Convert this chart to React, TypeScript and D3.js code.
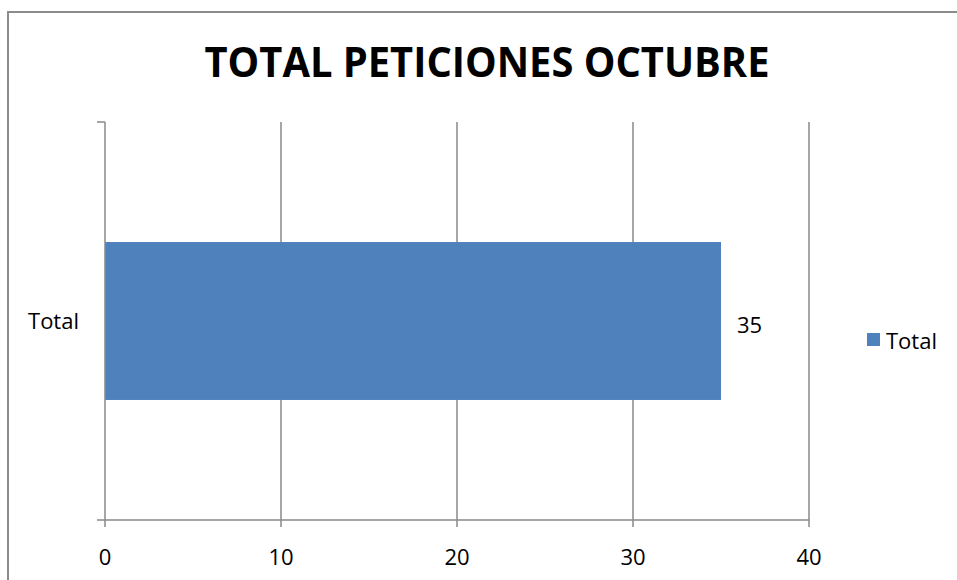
import React, { useRef, useEffect } from "react";
import * as d3 from "d3";

const categories = ["Total"];
const values = [35];
const seriesName = "Total";
const xTicks = [0, 10, 20, 30, 40];
const title = "TOTAL PETICIONES OCTUBRE";

const App = () => {
  const ref = useRef<SVGSVGElement>(null);

  useEffect(() => {
    const svg = d3.select(ref.current);
    svg.selectAll("*").remove();
    const font = "'Open Sans', Lato, sans-serif";
    const grey = "#898989";

    // chart frame
    svg.append("path")
      .attr("d", "M8,600 L8,12 L957,12")
      .attr("fill", "none")
      .attr("stroke", "#8c8c8c")
      .attr("stroke-width", 2);

    svg.append("text")
      .attr("x", 487).attr("y", 77)
      .attr("text-anchor", "middle")
      .attr("font-family", font)
      .attr("font-weight", "bold")
      .attr("font-size", 41)
      .attr("textLength", 565)
      .attr("lengthAdjust", "spacingAndGlyphs")
      .text(title);

    const x = d3.scaleLinear().domain([0, 40]).range([105, 809]);
    const bandTop = 122, bandBottom = 520;
    const y = d3.scaleBand().domain(categories).range([bandTop, bandBottom]).paddingInner(0).paddingOuter(0.76);

    // gridlines
    svg.append("g").selectAll("line")
      .data(xTicks.slice(1))
      .join("line")
      .attr("x1", d => x(d)).attr("x2", d => x(d))
      .attr("y1", bandTop).attr("y2", bandBottom + 7)
      .attr("stroke", grey).attr("stroke-width", 1.5);

    // bar
    svg.append("g").selectAll("rect")
      .data(values)
      .join("rect")
      .attr("x", x(0))
      .attr("y", (d, i) => y(categories[i])!)
      .attr("width", d => x(d) - x(0))
      .attr("height", y.bandwidth())
      .attr("fill", "#4f81bd");

    // axes
    svg.append("line")
      .attr("x1", x(0)).attr("x2", x(0))
      .attr("y1", bandTop).attr("y2", bandBottom + 7)
      .attr("stroke", grey).attr("stroke-width", 1.5);
    svg.append("line")
      .attr("x1", 97).attr("x2", x(40))
      .attr("y1", bandBottom).attr("y2", bandBottom)
      .attr("stroke", grey).attr("stroke-width", 1.5);
    svg.append("line")
      .attr("x1", 97).attr("x2", x(0))
      .attr("y1", bandTop).attr("y2", bandTop)
      .attr("stroke", grey).attr("stroke-width", 1.5);

    // tick labels
    svg.append("g").selectAll("text")
      .data(xTicks)
      .join("text")
      .attr("x", d => x(d)).attr("y", 565)
      .attr("text-anchor", "middle")
      .attr("font-family", font)
      .attr("font-size", 22)
      .text(d => d);

    svg.append("g").selectAll("text")
      .data(categories)
      .join("text")
      .attr("x", 79).attr("y", d => y(d)! + y.bandwidth() / 2 + 8)
      .attr("text-anchor", "end")
      .attr("font-family", font)
      .attr("font-size", 22)
      .text(d => d);

    // data label
    svg.append("g").selectAll("text")
      .data(values)
      .join("text")
      .attr("x", d => x(d) + 16).attr("y", (d, i) => y(categories[i])! + y.bandwidth() / 2 + 12)
      .attr("font-family", font)
      .attr("font-size", 22)
      .text(d => d);

    // legend
    svg.append("rect")
      .attr("x", 867).attr("y", 333).attr("width", 13).attr("height", 13)
      .attr("fill", "#4f81bd");
    svg.append("text")
      .attr("x", 886).attr("y", 349)
      .attr("font-family", font)
      .attr("font-size", 22)
      .text(seriesName);
  }, []);

  return (
    <svg ref={ref} width={957} height={580}
      style={{ position: "absolute", left: 0, top: 0, background: "#fff" }} />
  );
};

export default App;
